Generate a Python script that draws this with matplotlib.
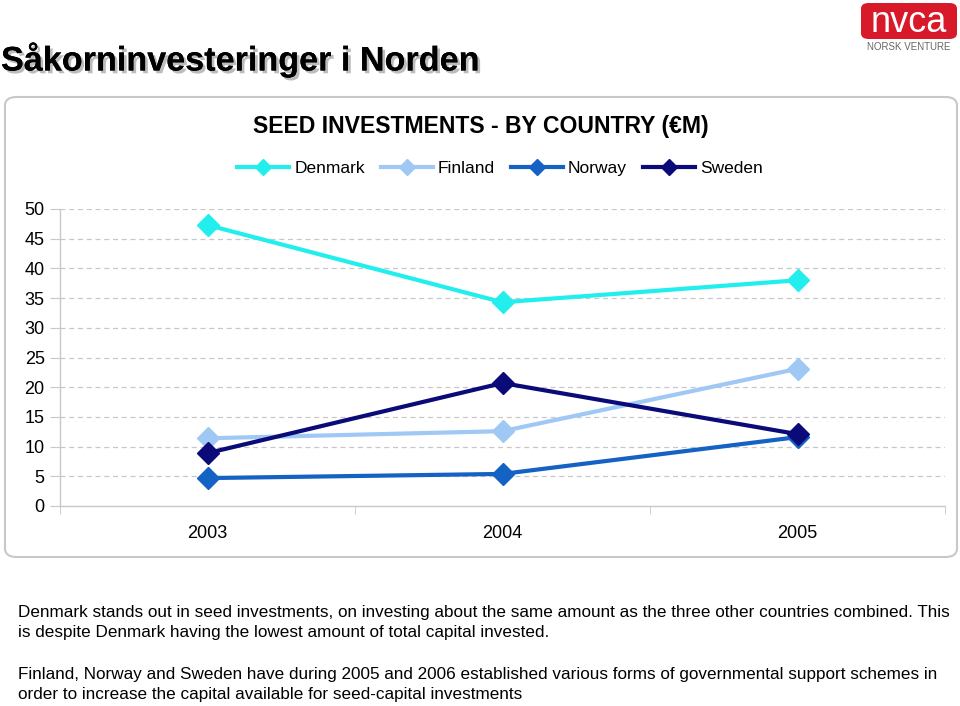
import matplotlib
matplotlib.use("Agg")
import matplotlib.pyplot as plt
from matplotlib.patches import FancyBboxPatch
from matplotlib.lines import Line2D
import matplotlib.patheffects as pe

years = ["2003", "2004", "2005"]
denmark = [47.3, 34.3, 38.0]
finland = [11.4, 12.6, 23.1]
norway = [4.7, 5.4, 11.6]
sweden = [8.9, 20.7, 12.1]
series_names = ["Denmark", "Finland", "Norway", "Sweden"]
series_vals = [denmark, finland, norway, sweden]
colors = ["#22EEEE", "#A0C8F4", "#1462C4", "#0A0A78"]
yticks = [0, 5, 10, 15, 20, 25, 30, 35, 40, 45, 50]

plt.rcParams['font.family'] = ['Liberation Sans', 'DejaVu Sans']

W, H = 960, 706
fig = plt.figure(figsize=(W / 100, H / 100), dpi=100)

def fx(px):
    return px / W

def fy(py):
    return 1 - py / H

# Page title with shadow
fig.text(fx(1), fy(60), "Såkorninvesteringer i Norden", fontsize=24.6,
         fontweight="bold", color="black", va="center", ha="left",
         path_effects=[pe.withSimplePatchShadow(offset=(2, -2), shadow_rgbFace="#A0A0A0",
                                                alpha=0.7), pe.Normal()])

# Logo
logo = FancyBboxPatch((fx(861), fy(39)), fx(957) - fx(861), fy(3) - fy(39),
                      boxstyle="round,pad=0,rounding_size=0.008",
                      transform=fig.transFigure, facecolor="#D7192A", edgecolor="none")
fig.patches.append(logo)
fig.text(fx(909), fy(23), "nvca", fontsize=26, color="white", ha="center", va="center")
fig.text(fx(909), fy(47), "NORSK VENTURE", fontsize=7, color="#666666", ha="center",
         va="center")

# Chart box
box = FancyBboxPatch((fx(5), fy(557)), fx(957) - fx(5), fy(97) - fy(557),
                     boxstyle="round,pad=0,rounding_size=0.012",
                     transform=fig.transFigure, facecolor="white",
                     edgecolor="#C8C8C8", linewidth=1.5, zorder=-5)
fig.patches.append(box)

fig.text(fx(481), fy(126), "SEED INVESTMENTS - BY COUNTRY (€M)", fontsize=16.6,
         fontweight="bold", ha="center", va="center")

ax = fig.add_axes([fx(60), fy(506), fx(945) - fx(60), fy(209) - fy(506)])
ax.set_zorder(2)
ax.patch.set_visible(False)
x = list(range(len(years)))
handles = []
for name, vals, c in zip(series_names, series_vals, colors):
    ax.plot(x, vals, color=c, lw=3, marker="D", markersize=11, zorder=3)
    handles.append(Line2D([], [], color=c, lw=3, marker="D", markersize=8, label=name))

ax.set_xlim(-0.5, 2.5)
ax.set_ylim(0, 50)
ax.set_yticks(yticks)
ax.set_yticklabels([str(v) for v in yticks], fontsize=13)
ax.set_xticks(x)
ax.set_xticklabels(years, fontsize=13)
ax.tick_params(axis="x", length=0, pad=14)
ax.set_xticks([-0.5, 0.5, 1.5, 2.5], minor=True)
ax.tick_params(axis="x", which="minor", length=6, color="#C8C8C8", direction="out")
ax.tick_params(axis="y", length=7, color="#C8C8C8", pad=4)
for v in yticks[1:]:
    ax.axhline(v, color="#C8C8C8", lw=0.9, ls=(0, (4, 3)), zorder=1)
for s in ["top", "right"]:
    ax.spines[s].set_visible(False)
for s in ["left", "bottom"]:
    ax.spines[s].set_color("#C8C8C8")
    ax.spines[s].set_linewidth(1)

fig.legend(handles=handles, loc="center", bbox_to_anchor=(fx(500), fy(168)), ncol=4,
           frameon=False, fontsize=12.5, handlelength=3.0, columnspacing=0.9,
           handletextpad=0.3)

body = [
    (612, "Denmark stands out in seed investments, on investing about the same amount as the three other countries combined. This"),
    (632, "is despite Denmark having the lowest amount of total capital invested."),
    (675, "Finland, Norway and Sweden have during 2005 and 2006 established various forms of governmental support schemes in"),
    (695, "order to increase the capital available for seed-capital investments"),
]
for py, t in body:
    fig.text(fx(18), fy(py), t, fontsize=12.3, ha="left", va="center")

fig.savefig("out.png", dpi=100)
